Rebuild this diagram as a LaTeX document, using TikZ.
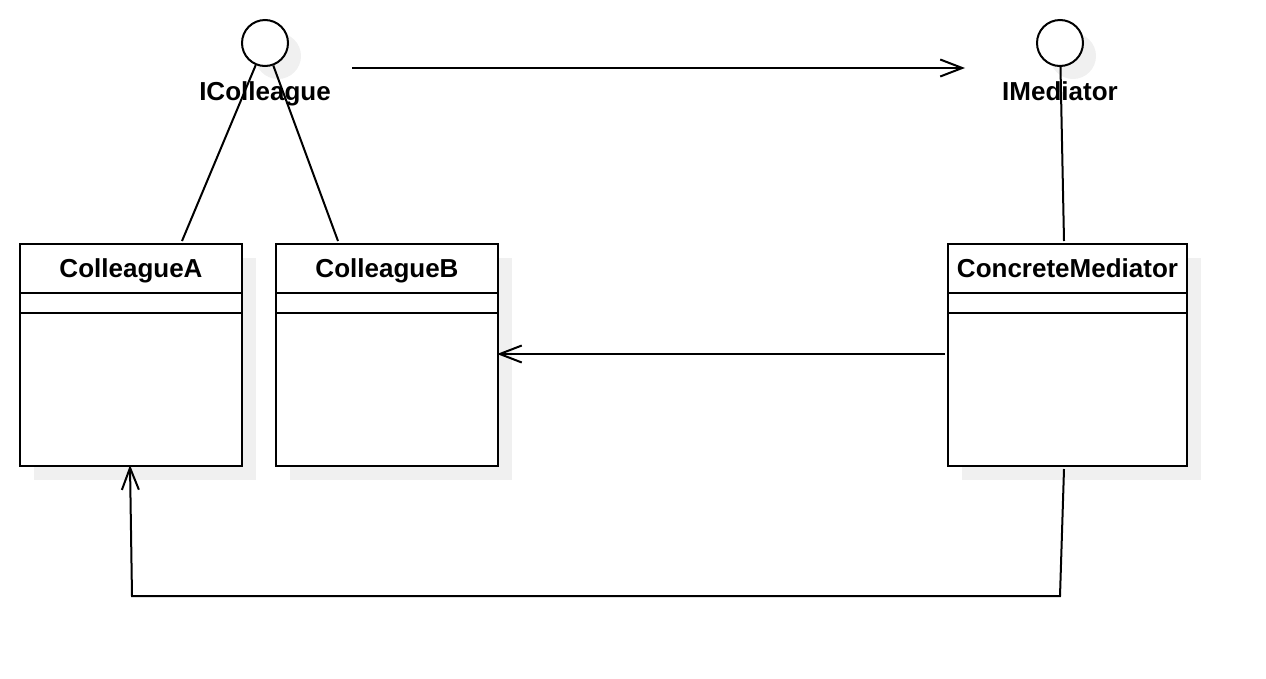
\documentclass[tikz,border=0pt]{standalone}
\usepackage{fontspec}
\setmainfont{Liberation Sans}
\usetikzlibrary{arrows.meta,calc}
\begin{document}
\begin{tikzpicture}[x=1pt,y=-1pt,
  line width=2pt,
  lbl/.style={font=\fontsize{26}{30}\selectfont\bfseries,anchor=base,inner sep=0pt},
  iface/.style={circle,draw,fill=white,minimum size=46pt,inner sep=0pt},
  ishadow/.style={circle,fill=black!6,minimum size=46pt,inner sep=0pt},
  cls/.style={rectangle,draw,fill=white,minimum height=222pt,inner sep=0pt},
  cshadow/.style={rectangle,fill=black!6,minimum height=222pt,inner sep=0pt},
  opentip/.style={-{Straight Barb[length=22pt,width=17pt,line width=2pt]}}
]
\useasboundingbox (0,0) rectangle (1266,678);
% shadows
\node[ishadow] at (278,56) {};
\node[ishadow] at (1073,56) {};
\node[cshadow,minimum width=222pt] at (145,369) {};
\node[cshadow,minimum width=222pt] at (401,369) {};
\node[cshadow,minimum width=239pt] at (1081.5,369) {};
% interfaces
\node[iface] (ic) at (265,43) {};
\node[iface] (im) at (1060,43) {};
\node[lbl] (icl) at (265,100) {IColleague};
\node[lbl] (iml) at (1060,100) {IMediator};
% classes
\node[cls,minimum width=222pt] (ca) at (131,355) {};
\node[cls,minimum width=222pt] (cb) at (387,355) {};
\node[cls,minimum width=239pt] (cm) at (1067.5,355) {};
\foreach \b/\t in {ca/ColleagueA,cb/ColleagueB,cm/ConcreteMediator}{
  \draw (\b.north west) ++(0,50) coordinate (\b-d1) -- (\b-d1 -| \b.east);
  \draw (\b.north west) ++(0,70) coordinate (\b-d2) -- (\b-d2 -| \b.east);
  \node[lbl] (\b-t) at ($(\b.north)+(0,34)$) {\t};
}
% connectors
\draw (ic) -- ([xshift=51pt,yshift=2pt]ca.north);
\draw (ic) -- ([xshift=-49pt,yshift=2pt]cb.north);
\draw (im) -- ([xshift=-3.5pt,yshift=2pt]cm.north);
\coordinate (a1) at (352,68);
\coordinate (a2) at (965,68);
\draw[opentip] (a1) -- (a2);
\draw[opentip] ([xshift=-2pt]cm.west |- 0,354) -- ([xshift=-2pt]cb.east |- 0,354);
\coordinate (b1) at (1060,596);
\coordinate (b2) at (132,596);
\draw[opentip] ([xshift=-3.5pt,yshift=-2pt]cm.south) -- (b1) -- (b2) -- ([xshift=-1pt,yshift=2pt]ca.south);
\end{tikzpicture}
\end{document}
